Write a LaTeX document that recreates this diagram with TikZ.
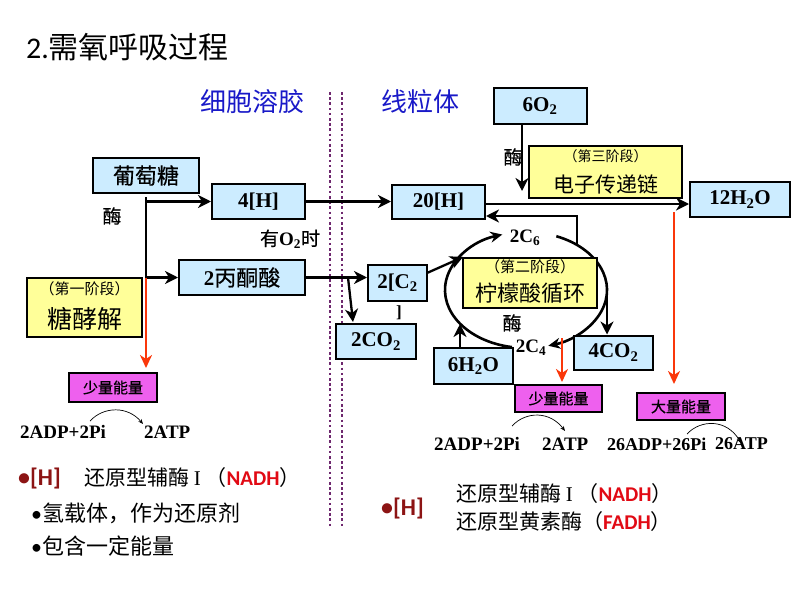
\documentclass[tikz,border=0pt]{standalone}
\usepackage{fontspec}
\setmainfont{Liberation Serif}
\newfontfamily\cjk{Noto Sans CJK SC}
\newfontfamily\cjkb[FakeBold=0.5]{Noto Sans CJK SC}
\newfontfamily\carl{Carlito}
\usetikzlibrary{arrows.meta,calc}
\definecolor{lblue}{RGB}{204,236,255}
\definecolor{lyellow}{RGB}{255,255,153}
\definecolor{lmag}{RGB}{238,96,238}
\definecolor{rarrow}{RGB}{250,55,10}
\definecolor{tblue}{RGB}{25,25,200}
\definecolor{dred}{RGB}{140,20,20}
\definecolor{nred}{RGB}{225,10,20}
\definecolor{dotc}{RGB}{110,40,110}
\newcommand\fsz[1]{\fontsize{#1}{#1}\selectfont}
\tikzset{
 bx/.style={draw=black, line width=2pt, fill=lblue, inner sep=0pt, font=\bfseries\fsz{21}},
 yb/.style={draw=black, line width=2pt, fill=lyellow, inner sep=0pt},
 mb/.style={draw=black, line width=2pt, fill=lmag, inner sep=0pt, font=\cjkb\fsz{15}},
 arr/.style={line width=2.3pt, -{Stealth[length=13pt,width=13pt,inset=4pt]}},
 ln/.style={line width=2.3pt},
 rarr/.style={draw=rarrow, line width=2.3pt, -{Stealth[length=13pt,width=12pt,inset=4pt]}},
 tarr/.style={line width=0.7pt, -{Stealth[length=5pt,width=4pt]}},
 dotline/.style={draw=dotc, line width=2.6pt, dash pattern=on 2.6pt off 2.6pt},
 ell/.style={line width=2.6pt},
 txt/.style={inner sep=0pt},
}
\begin{document}
\begin{tikzpicture}[x=1pt,y=-1pt]
\useasboundingbox (0,0) rectangle (794,596);
% title and regions
\node[txt,anchor=west] (title) at (26,47) {{\carl\fsz{30}2.}{\cjk\fsz{30}需氧呼吸过程}};
\node[txt,text=tblue] (cyto) at (252,102) {\cjk\fsz{26}细胞溶胶};
\node[txt,text=tblue] (mito) at (420,102) {\cjk\fsz{26}线粒体};
\coordinate (d1t) at (330,92); \coordinate (d1b) at (330,528);
\coordinate (d2t) at (342,92); \coordinate (d2b) at (342,528);
\draw[dotline] (d1t) -- (d1b);
\draw[dotline] (d2t) -- (d2b);

% glycolysis
\node[bx,minimum width=106pt,minimum height=35pt] (glu) at (146,175.5) {\mdseries\cjkb\fsz{22}葡萄糖};
\node[bx,minimum width=93pt,minimum height=35pt] (h4) at (258.5,201.5) {4[H]};
\node[bx,minimum width=126pt,minimum height=35pt] (pyr) at (242,277.5) {2{\mdseries\cjkb\fsz{22}丙酮酸}};
\node[txt] (enz1) at (112,216) {\cjkb\fsz{19}酶};
\node[txt] (o2t) at (290,239) {{\cjkb\fsz{19}有}{\bfseries\fsz{19}O\textsubscript{2}}{\cjkb\fsz{19}时}};
\node[yb,minimum width=115pt,minimum height=59pt] (gly) at (84.5,307.5) {};
\node[txt] (gly1) at (84.5,289) {\cjk\fsz{15}（第一阶段）};
\node[txt] (gly2) at (84.5,319) {\cjk\fsz{25}糖酵解};
\node[mb,minimum width=88pt,minimum height=29pt] (e1) at (113,387.5) {少量能量};

\coordinate (j1) at (146,197);
\coordinate (j2) at (146,277.5);
\draw[ln] (j1) -- (j2);
\draw[arr] (j1 |- h4.west) -- (h4.west);
\draw[arr] (j2) -- (pyr.west);
\draw[rarr] (j2) -- ($(e1.north -| j2)+(0,-4)$);

\node[txt,anchor=west] (adp1) at (20,432) {\bfseries\fsz{19}2ADP+2Pi};
\node[txt,anchor=west] (atp1) at (144,432) {\bfseries\fsz{19}2ATP};
\coordinate (c1a) at (90,421); \coordinate (c1b) at (143,424);
\draw[tarr] (c1a) .. controls (104,406) and (128,406) .. (c1b);

% mitochondria
\node[bx,minimum width=93pt,minimum height=34pt] (h20) at (438.5,202) {20[H]};
\node[bx,minimum width=93pt,minimum height=36pt] (o2) at (540,106) {6O\textsubscript{2}};
\node[yb,minimum width=153pt,minimum height=52pt] (etc) at (605.5,172) {};
\node[txt] (etc1) at (605.5,156) {\cjk\fsz{14}（第三阶段）};
\node[txt] (etc2) at (605.5,184) {\cjk\fsz{21}电子传递链};
\node[bx,minimum width=100pt,minimum height=35pt] (w12) at (740,199.5) {12H\textsubscript{2}O};
\node[txt] (enz3) at (513,157) {\cjkb\fsz{19}酶};

\draw[arr] (h4.east) -- (h4.east -| h20.west);
\coordinate (o2s) at (522,124);
\coordinate (o2e) at (522,191);
\draw[arr] (o2s) -- (o2e);
\coordinate (h20o) at (485,204);
\draw[arr] (h20o) -- (h20o -| w12.west);

% citric acid cycle
\draw[ell,-{Stealth[length=12pt,width=11pt,inset=4pt]}] (526,290) ++(100:81 and 58) arc[start angle=100,end angle=253,x radius=81,y radius=58];
\draw[ell,-{Stealth[length=12pt,width=11pt,inset=4pt]}] (526,290) ++(292:81 and 58) arc[start angle=292,end angle=434,x radius=81,y radius=58];
\node[txt] (c6) at (525,238) {\bfseries\fsz{19}2C\textsubscript{6}};
\node[txt] (c4) at (531,348) {\bfseries\fsz{19}2C\textsubscript{4}};
\node[txt] (enz2) at (512,323) {\cjkb\fsz{19}酶};
\node[yb,minimum width=134pt,minimum height=50pt] (tca) at (530,283) {};
\node[txt] (tca1) at (530,267) {\cjk\fsz{15}（第二阶段）};
\node[txt] (tca2) at (530,293) {\cjk\fsz{22}柠檬酸循环};

\node[bx,minimum width=59pt,minimum height=36pt] (c2) at (397.5,283) {2[C\textsubscript{2}};
\node[txt] (brk) at (399,313) {\bfseries\fsz{17}]};
\node[bx,minimum width=80pt,minimum height=35pt] (co2a) at (376,341.5) {2CO\textsubscript{2}};
\node[bx,minimum width=79pt,minimum height=34pt] (co2b) at (613.5,352.5) {4CO\textsubscript{2}};
\node[bx,minimum width=79pt,minimum height=36pt] (w6) at (473.5,366) {6H\textsubscript{2}O};
\node[mb,minimum width=87pt,minimum height=27pt] (e2) at (558.5,398.5) {少量能量};
\node[mb,minimum width=88pt,minimum height=27pt] (e3) at (681,406.5) {大量能量};

\draw[arr] (pyr.east) -- (pyr.east -| c2.west);
\coordinate (j3) at (348,277.5);
\coordinate (j3e) at (353,322);
\draw[arr] (j3) -- (j3e);
\coordinate (c2o) at (427,273);
\coordinate (c2e) at (463,257);
\draw[arr] (c2o) -- (c2e);
\coordinate (fb) at (577,246);
\coordinate (fbe) at (486,216);
\draw[arr] (fb) |- (fbe);
\coordinate (er) at (607,290);
\draw[arr] (er) -- (er |- co2b.north);
\coordinate (wu) at (460,324);
\draw[arr] (w6.north -| wu) -- (wu);
\coordinate (r1s) at (562,338);
\coordinate (r1e) at (562,382);
\draw[rarr] (r1s) -- (r1e);
\coordinate (r2s) at (674,212);
\coordinate (r2e) at (674,384);
\draw[rarr] (r2s) -- (r2e);

\node[txt,anchor=west] (adp2) at (434,444) {\bfseries\fsz{19}2ADP+2Pi};
\node[txt,anchor=west] (atp2) at (542,444) {\bfseries\fsz{19}2ATP};
\node[txt,anchor=west] (adp3) at (607,444) {\bfseries\fsz{18}26ADP+26Pi};
\node[txt,anchor=west] (atp3) at (715,444) {\bfseries\fsz{18}26ATP};
\coordinate (c2a) at (512,426); \coordinate (c2b) at (565,431);
\draw[tarr] (c2a) .. controls (526,411) and (550,411) .. (c2b);
\coordinate (c3a) at (687,434); \coordinate (c3b) at (741,443);
\draw[tarr] (c3a) .. controls (701,419) and (727,419) .. (c3b);

% notes
\node[txt,anchor=west,text=dred] (hl) at (18,479) {\carl\bfseries\fsz{24}•[H]};
\node[txt,anchor=west] (hl2) at (84,478) {\cjk\fsz{21}还原型辅酶 {\rmfamily I} （{\carl\bfseries\color{nred}NADH}）};
\node[txt,anchor=west] (b1) at (31,513) {{\carl\fsz{22}•}\cjk\fsz{22}氢载体，作为还原剂};
\node[txt,anchor=west] (b2) at (31,546) {{\carl\fsz{22}•}\cjk\fsz{22}包含一定能量};
\node[txt,anchor=west,text=dred] (hr) at (381,509) {\carl\bfseries\fsz{24}•[H]};
\node[txt,anchor=west] (hr2) at (456,494) {\cjk\fsz{21}还原型辅酶 {\rmfamily I} （{\carl\bfseries\color{nred}NADH}）};
\node[txt,anchor=west] (hr3) at (456,522) {\cjk\fsz{21}还原型黄素酶（{\carl\bfseries\color{nred}FADH}）};
\end{tikzpicture}
\end{document}
